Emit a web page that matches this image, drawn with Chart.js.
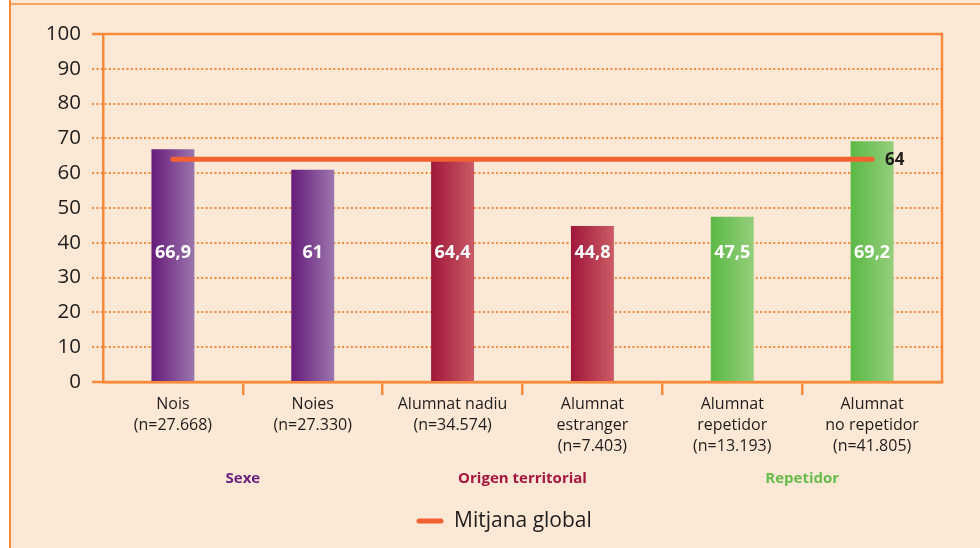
<!DOCTYPE html>
<html lang="ca">
<head>
<meta charset="utf-8">
<title>Mitjana per grups d'alumnat</title>
<script src="https://cdn.jsdelivr.net/npm/chart.js@4/dist/chart.umd.min.js"></script>
<style>
  html, body { margin: 0; padding: 0; background: #fff; }
  #wrap { position: relative; width: 980px; height: 548px; }
</style>
</head>
<body>
<div id="wrap"><canvas id="chart"></canvas></div>
<script>
// categories (multi-line axis labels)
const categories = [
  ["Nois", "(n=27.668)"],
  ["Noies", "(n=27.330)"],
  ["Alumnat nadiu", "(n=34.574)"],
  ["Alumnat", "estranger", "(n=7.403)"],
  ["Alumnat", "repetidor", "(n=13.193)"],
  ["Alumnat", "no repetidor", "(n=41.805)"],
];
const scores = [66.9, 61, 64.4, 44.8, 47.5, 69.2];
const globalMean = 64;
const meanLabel = "Mitjana global";

// groups shown under the axis, by category index
const groupNames = ["Sexe", "Origen territorial", "Repetidor"];
const groupMembers = [[0, 1], [2, 3], [4, 5]];
const groupOfCategory = [0, 0, 1, 1, 2, 2];

const yMin = 0;
const yMax = 100;
const yStep = 10;

// styling
const ORANGE = "#f78b3b";
const MEAN_COLOR = "#f26231";
const PEACH = "#fde8d6";
const INK = "#1f1c1d";
const FONT = "'Open Sans', 'Noto Sans', sans-serif";
const groupColors = ["#6b1f7e", "#a8153d", "#66bb4a"];
const barShades = [
  ["#661b7a", "#9b76ad"],
  ["#a0163a", "#cb5c65"],
  ["#5bb945", "#95ce7c"],
];
const BAR_PCT = 0.307;

const barGradient = (c) => {
  const g = groupOfCategory[c.dataIndex] ?? 0;
  const chart = c.chart;
  const x = chart.scales.x;
  if (!x || c.type !== "data") return barShades[g][0];
  const cx = x.getPixelForValue(c.dataIndex);
  const hw = (x.width / categories.length) * BAR_PCT / 2;
  if (!isFinite(cx) || !isFinite(hw) || hw <= 0) return barShades[g][0];
  const grad = chart.ctx.createLinearGradient(cx - hw, 0, cx + hw, 0);
  grad.addColorStop(0, barShades[g][0]);
  grad.addColorStop(1, barShades[g][1]);
  return grad;
};

const decor = {
  id: "decor",
  beforeDraw(chart) {
    const { ctx, width, height } = chart;
    ctx.save();
    ctx.fillStyle = "#fff";
    ctx.fillRect(0, 0, width, height);
    ctx.fillStyle = PEACH;
    ctx.fillRect(9, 0, width - 9, height);
    ctx.strokeStyle = ORANGE;
    ctx.lineWidth = 2;
    ctx.beginPath();
    ctx.moveTo(10, 0); ctx.lineTo(10, height);
    ctx.stroke();
    ctx.lineWidth = 1.5;
    ctx.beginPath();
    ctx.moveTo(10, 4); ctx.lineTo(width, 4);
    ctx.stroke();
    ctx.restore();
  },
  beforeDatasetsDraw(chart) {
    const { ctx, chartArea: a, scales: { y } } = chart;
    ctx.save();
    ctx.strokeStyle = ORANGE;
    ctx.lineWidth = 2.5;
    // solid top and zero lines, right edge of the plot
    [yMin, yMax].forEach((v) => {
      const py = y.getPixelForValue(v);
      ctx.beginPath();
      ctx.moveTo(a.left - 11, py);
      ctx.lineTo(a.right, py);
      ctx.stroke();
    });
    ctx.beginPath();
    ctx.moveTo(a.right, y.getPixelForValue(yMax) - 1.25);
    ctx.lineTo(a.right, y.getPixelForValue(yMin));
    ctx.stroke();
    ctx.restore();
  },
  afterDatasetsDraw(chart) {
    const { ctx, scales: { x, y } } = chart;
    ctx.save();
    // values inside bars
    ctx.font = `bold 18px ${FONT}`;
    ctx.fillStyle = "#fff";
    ctx.textAlign = "center";
    ctx.textBaseline = "middle";
    const labelY = y.getPixelForValue(37);
    scores.forEach((v, i) => {
      ctx.fillText(String(v).replace(".", ","), x.getPixelForValue(i), labelY);
    });
    // mean value at the end of the line
    const last = chart.getDatasetMeta(1).data[categories.length - 1];
    ctx.font = `bold 17px ${FONT}`;
    ctx.fillStyle = INK;
    ctx.textAlign = "left";
    ctx.fillText(String(globalMean), last.x + 13, last.y + 1);
    // group titles
    ctx.font = `bold 15px ${FONT}`;
    ctx.textAlign = "center";
    groupNames.forEach((name, g) => {
      const xs = groupMembers[g].map((i) => x.getPixelForValue(i));
      ctx.fillStyle = groupColors[g];
      ctx.fillText(name, (xs[0] + xs[xs.length - 1]) / 2, 479);
    });
    // legend
    ctx.strokeStyle = MEAN_COLOR;
    ctx.lineWidth = 5;
    ctx.lineCap = "round";
    ctx.beginPath();
    ctx.moveTo(419, 521); ctx.lineTo(441, 521);
    ctx.stroke();
    ctx.font = `21px ${FONT}`;
    ctx.fillStyle = INK;
    ctx.textAlign = "left";
    ctx.fillText(meanLabel, 454, 521);
    ctx.restore();
  },
};

new Chart(document.getElementById("chart"), {
  data: {
    labels: categories,
    datasets: [
      {
        type: "bar",
        data: scores,
        backgroundColor: barGradient,
        borderWidth: 0,
        barPercentage: BAR_PCT,
        categoryPercentage: 1,
        order: 1,
      },
      {
        type: "line",
        label: meanLabel,
        data: categories.map(() => globalMean),
        borderColor: MEAN_COLOR,
        borderWidth: 5,
        borderCapStyle: "round",
        pointRadius: 0,
        fill: false,
        order: 0,
      },
    ],
  },
  options: {
    responsive: true,
    maintainAspectRatio: false,
    animation: false,
    layout: { padding: { top: 34, right: 38, left: 0, bottom: 0 } },
    plugins: { legend: { display: false }, tooltip: { enabled: false } },
    scales: {
      x: {
        offset: true,
        grid: {
          offset: true,
          drawOnChartArea: false,
          tickLength: 13,
          lineWidth: 2.5,
          color: (c) => (c.type !== "tick" || c.index === 0 ? "transparent" : ORANGE),
        },
        border: { display: true, color: ORANGE, width: 2.5 },
        ticks: {
          color: INK,
          font: { family: FONT, size: 16, lineHeight: 1.32 },
          padding: -1,
          maxRotation: 0,
          autoSkip: false,
        },
        afterFit: (s) => { s.height = 166; },
      },
      y: {
        min: yMin,
        max: yMax,
        ticks: {
          stepSize: yStep,
          color: INK,
          font: { family: FONT, size: 20.5 },
          padding: 11,
        },
        grid: {
          color: (c) => (c.tick && (c.tick.value === yMin || c.tick.value === yMax) ? "transparent" : ORANGE),
          lineWidth: 2,
          tickLength: 11,
          tickBorderDash: [2, 2.4],
        },
        border: { display: true, color: ORANGE, width: 2.5, dash: [2, 2.4] },
        afterFit: (s) => { s.width = 103; },
      },
    },
  },
  plugins: [decor],
});
</script>
</body>
</html>
